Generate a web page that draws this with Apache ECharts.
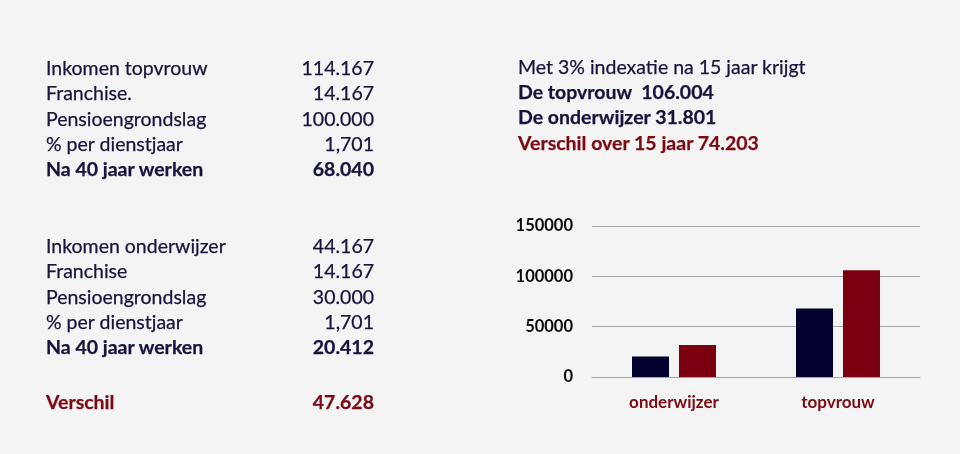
<!DOCTYPE html>
<html>
<head>
<meta charset="utf-8">
<script src="https://cdn.jsdelivr.net/npm/echarts@6/dist/echarts.min.js"></script>
<style>
  html, body { margin: 0; padding: 0; background: #f4f4f4; }
  #page { position: relative; width: 960px; height: 454px; overflow: hidden; font-family: Lato, sans-serif; }
  #chart { position: absolute; left: 0; top: 0; width: 960px; height: 454px; }
  .row { position: absolute; font-size: 19.5px; line-height: 20px; color: #14143e; white-space: pre; -webkit-text-stroke: 0.25px #14143e; }
  .lbl { left: 46px; }
  .val { right: 586px; text-align: right; }
  .rt { left: 518px; }
  .b { font-weight: bold; }
  .red { color: #7b0a14; -webkit-text-stroke: 0.25px #7b0a14; }
</style>
</head>
<body>
<div id="page">
  <div id="chart"></div>
  <div id="text"></div>
</div>
<script>
// tekstblokken
const topvrouwRegels = [
  ['Inkomen topvrouw', '114.167', false],
  ['Franchise.', '14.167', false],
  ['Pensioengrondslag', '100.000', false],
  ['% per dienstjaar', '1,701', false],
  ['Na 40 jaar werken', '68.040', true]
];
const onderwijzerRegels = [
  ['Inkomen onderwijzer', '44.167', false],
  ['Franchise', '14.167', false],
  ['Pensioengrondslag', '30.000', false],
  ['% per dienstjaar', '1,701', false],
  ['Na 40 jaar werken', '20.412', true]
];
const verschilRegel = ['Verschil', '47.628'];
const indexatieRegels = [
  ['Met 3% indexatie na 15 jaar krijgt', ''],
  ['De topvrouw  106.004', 'b'],
  ['De onderwijzer 31.801', 'b'],
  ['Verschil over 15 jaar 74.203', 'b red']
];

// grafiek
const categorieen = ['onderwijzer', 'topvrouw'];
const pensioen40 = [20412, 68040];
const geindexeerd15 = [31801, 106004];
const yTicks = [0, 50000, 100000, 150000];

const textBox = document.getElementById('text');
function addRow(txt, cls, centerY) {
  const d = document.createElement('div');
  d.className = 'row ' + cls;
  d.textContent = txt;
  d.style.top = (centerY - 10) + 'px';
  textBox.appendChild(d);
}
topvrouwRegels.forEach((r, i) => {
  const y = 68 + i * 25.3;
  addRow(r[0], 'lbl' + (r[2] ? ' b' : ''), y);
  addRow(r[1], 'val' + (r[2] ? ' b' : ''), y);
});
onderwijzerRegels.forEach((r, i) => {
  const y = 246 + i * 25.3;
  addRow(r[0], 'lbl' + (r[2] ? ' b' : ''), y);
  addRow(r[1], 'val' + (r[2] ? ' b' : ''), y);
});
addRow(verschilRegel[0], 'lbl b red', 402);
addRow(verschilRegel[1], 'val b red', 402);
indexatieRegels.forEach((r, i) => {
  addRow(r[0], 'rt ' + r[1], 67 + i * 25.2);
});

const chart = echarts.init(document.getElementById('chart'));
chart.setOption({
  animation: false,
  grid: { left: 592, right: 40, top: 226, bottom: 77 },
  xAxis: {
    type: 'category',
    data: categorieen,
    axisLine: { lineStyle: { color: '#a6a6a6', width: 1 } },
    axisTick: { show: false },
    axisLabel: {
      margin: 17,
      color: '#7b0a14',
      fontFamily: 'Lato',
      fontWeight: 'bold',
      fontSize: 17
    }
  },
  yAxis: {
    type: 'value',
    min: 0,
    max: yTicks[yTicks.length - 1],
    interval: yTicks[1] - yTicks[0],
    axisLine: { show: false },
    axisTick: { show: false },
    splitLine: { lineStyle: { color: '#a6a6a6', width: 1 } },
    axisLabel: {
      margin: 19,
      color: '#0a0a0a',
      fontFamily: 'Lato',
      fontWeight: 'bold',
      fontSize: 16.5,
      formatter: v => String(v)
    }
  },
  series: [
    {
      type: 'bar',
      data: pensioen40,
      barWidth: 37,
      barGap: '27%',
      itemStyle: { color: '#03022e' }
    },
    {
      type: 'bar',
      data: geindexeerd15,
      barWidth: 37,
      barGap: '27%',
      itemStyle: { color: '#7a000f' }
    }
  ]
});
</script>
</body>
</html>
